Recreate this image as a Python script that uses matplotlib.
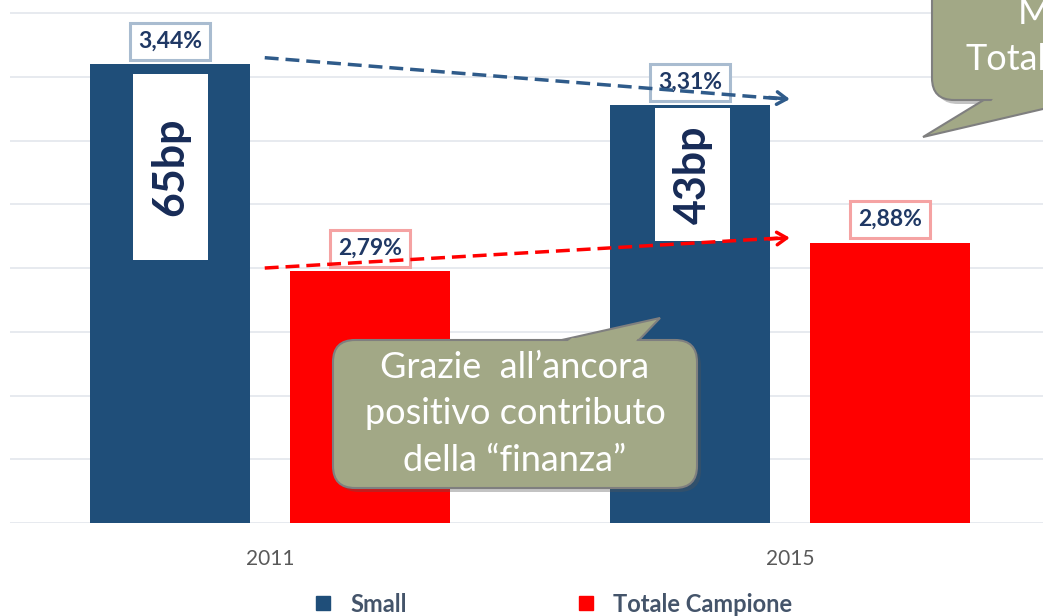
import matplotlib
matplotlib.use("Agg")
import matplotlib.pyplot as plt
from matplotlib.patches import Rectangle, FancyBboxPatch, Polygon
from matplotlib.lines import Line2D

# data
years = ["2011", "2015"]
small = [3.44, 3.31]
totale = [2.79, 2.88]
small_lbl = ["3,44%", "3,31%"]
totale_lbl = ["2,79%", "2,88%"]
gap_lbl = ["65bp", "43bp"]

BLUE = "#1F4E79"
RED = "#FF0000"
NAVY = "#1F3864"
OLIVE = "#A2A886"

plt.rcParams['font.family'] = ['Lato', 'DejaVu Sans']

fig = plt.figure(figsize=(10.43, 6.16), dpi=100)
ax = fig.add_axes([10/1043, 1 - 523/616, 1033/1043, 523/616])

x = [0, 1]
w = 0.3077
off = 0.192
ax.bar([i - off for i in x], small, width=w, color=BLUE, zorder=2)
ax.bar([i + off for i in x], totale, width=w, color=RED, zorder=2)

ax.set_xlim(-0.5, 1.487)
ax.set_ylim(2.0, 3.641)
ax.set_yticks([2.0 + 0.2*k for k in range(9)])
ax.grid(axis='y', color='#E3E6EC', lw=1.2, zorder=0)
ax.set_axisbelow(True)
for s in ax.spines.values():
    s.set_visible(False)
ax.tick_params(axis='y', left=False, labelleft=False)
ax.tick_params(axis='x', bottom=False, pad=15, labelsize=15, labelcolor='#595959')
ax.set_xticks(x)
ax.set_xticklabels(years)

# value labels
for i in x:
    ax.annotate(small_lbl[i], (i - off, small[i]), xytext=(0, 9), textcoords='offset points',
                ha='center', va='bottom', fontsize=16.5, fontweight='bold', color=NAVY, zorder=5,
                bbox=dict(boxstyle='square,pad=0.35', fc='white', ec='#A9BCD0', lw=2.2))
    ax.annotate(totale_lbl[i], (i + off, totale[i]), xytext=(0, 9), textcoords='offset points',
                ha='center', va='bottom', fontsize=16.5, fontweight='bold', color=NAVY, zorder=5,
                bbox=dict(boxstyle='square,pad=0.35', fc='white', ec='#F5A3A3', lw=2.2))

# white boxes with the gap in bp
box_y = [(2.825, 3.41), (2.886, 3.302)]
for i in x:
    y0, y1 = box_y[i]
    cx = i - off + (0.005 if i else 0)
    ax.add_patch(Rectangle((cx - 0.072, y0), 0.144, y1 - y0, fc='white', ec='none', zorder=3))
    ax.text(cx, (y0 + y1) / 2, gap_lbl[i], rotation=90, ha='center', va='center',
            fontsize=31, fontweight='bold', color='#172B57', zorder=4)

# dashed trend arrows
def trend(y0, y1, color):
    ax.plot([-0.01, 0.99], [y0, y1], color=color, lw=2.5, ls=(0, (4, 2)), zorder=6)
    ax.annotate('', xy=(1.0, y1), xytext=(0.96, y1 - (y1 - y0) * 0.04),
                arrowprops=dict(arrowstyle='->,head_length=0.7,head_width=0.45',
                                color=color, lw=2.5, shrinkA=0, shrinkB=0), zorder=6)

trend(small[0] + 0.02, small[1] + 0.02, '#2F5B8A')
trend(totale[0] + 0.01, totale[1] + 0.015, RED)

# callouts in pixel space
ov = fig.add_axes([0, 0, 1, 1], zorder=10)
ov.set_xlim(0, 1043)
ov.set_ylim(616, 0)
ov.axis('off')

def callout(x0, y0, bw, bh, tri, cover):
    sh = 4
    ov.add_patch(FancyBboxPatch((x0 + sh, y0 + sh), bw, bh, boxstyle='round,pad=0,rounding_size=22',
                                fc='#555555', ec='none', alpha=0.35))
    ov.add_patch(Polygon(tri, closed=True, fc=OLIVE, ec='#7F7F7F', lw=1.5))
    ov.add_patch(FancyBboxPatch((x0, y0), bw, bh, boxstyle='round,pad=0,rounding_size=22',
                                fc=OLIVE, ec='#7F7F7F', lw=1.5))
    ov.add_patch(Polygon(cover, closed=True, fc=OLIVE, ec='none'))

callout(333, 340, 364, 148,
        [(553, 342), (637, 342), (660, 318)],
        [(562, 345), (634, 345), (638, 338), (572, 338)])
ov.text(515, 414, "Grazie  all\u2019ancora\npositivo contributo\ndella \u201cfinanza\u201d",
        ha='center', va='center', fontsize=26, color='white', linespacing=1.5)

callout(932, -40, 160, 140,
        [(987, 98), (1090, 98), (923, 137)],
        [(995, 96), (1090, 96), (1090, 103), (990, 103)])
ov.text(1018, 14, "Margine", ha='left', va='center', fontsize=26, color='white', clip_on=True)
ov.text(966, 60, "Totale", ha='left', va='center', fontsize=26, color='white', clip_on=True)

# legend
handles = [Line2D([], [], marker='s', ls='', color=BLUE, markersize=10),
           Line2D([], [], marker='s', ls='', color=RED, markersize=10)]
fig.legend(handles, ["Small", "Totale Campione"], loc='center', ncol=2, frameon=False,
           bbox_to_anchor=(546/1043, 1 - 604/616), columnspacing=6.6, handletextpad=0.15,
           prop={'size': 17, 'weight': 'bold'}, labelcolor='#44546A')

fig.savefig("out.png", dpi=100)
